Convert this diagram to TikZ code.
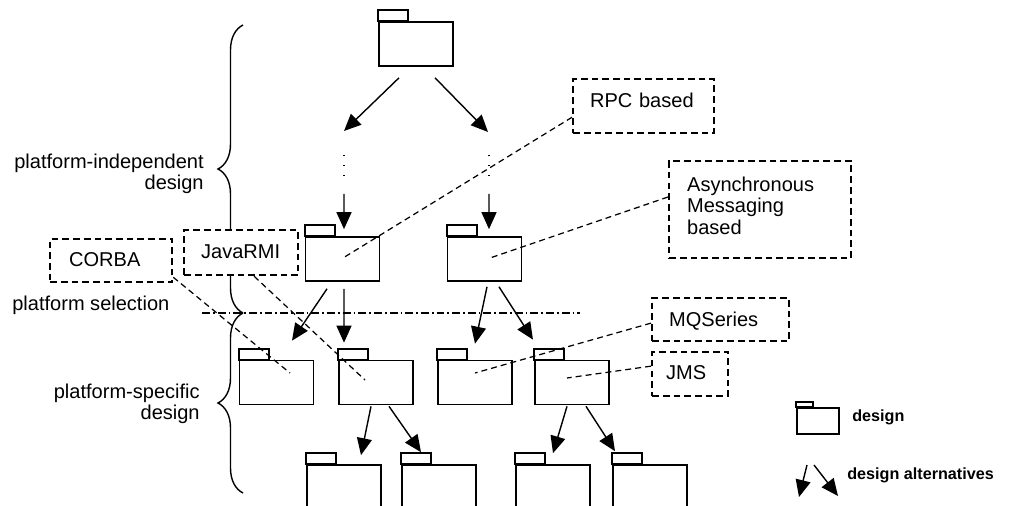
\documentclass[tikz,border=0pt]{standalone}
\usepackage{fontspec}
\setmainfont{Liberation Sans}
\usetikzlibrary{arrows.meta,calc,decorations.pathreplacing}

\tikzset{
  folder/.style={draw, fill=white, line width=0.95pt, inner sep=0pt,
    minimum width=1.48cm, minimum height=0.88cm},
  foldertab/.style={draw, fill=white, line width=0.95pt},
  alt/.style={-{Triangle[length=0.34cm,width=0.3cm]}, line width=0.8pt},
  note/.style={draw, fill=white, line width=1.3pt, dash pattern=on 3.8pt off 2.3pt,
    inner ysep=0pt, align=left, anchor=north west,
    font=\fontsize{11.4}{12.3}\selectfont},
  link/.style={line width=0.7pt, dash pattern=on 3.4pt off 2.3pt},
  lbl/.style={inner sep=0pt, font=\fontsize{11.4}{12.3}\selectfont},
  legend/.style={inner sep=0pt, anchor=base west, font=\fontsize{9.2}{11}\selectfont\bfseries},
  bracepath/.style={decorate, decoration={brace, amplitude=0.5cm}, line width=0.8pt},
}

\begin{document}
\begin{tikzpicture}[x=0.02cm, y=-0.02cm]
\useasboundingbox (0,0) rectangle (1015,506);

% level braces and the platform selection line
\draw[bracepath] (243,313) -- (243,25);
\draw[bracepath] (243,493) -- (243,313);
\coordinate (sel1) at (202,313);
\coordinate (sel2) at (580,313);
\draw[line width=0.8pt, dash pattern=on 4.5pt off 1.7pt on 1pt off 1.7pt] (sel1) -- (sel2);

\node[lbl, anchor=base east, align=right] (pid) at (204,190) {platform-independent\\design};
\node[lbl, anchor=base west] (psel) at (12,311) {platform selection};
\node[lbl, anchor=base east, align=right] (psd) at (200,420) {platform-specific\\design};

% designs
\node[folder] (t)  at (416,44) {};
\node[folder] (m1) at (342.5,259) {};
\node[folder] (m2) at (484.5,259) {};
\node[folder] (f1) at (276.5,382.5) {};
\node[folder] (f2) at (376,382.5) {};
\node[folder] (f3) at (475,382.5) {};
\node[folder] (f4) at (572,382.5) {};
\node[folder] (ga) at (344,487) {};
\node[folder] (gb) at (439,487) {};
\node[folder] (gc) at (553,487) {};
\node[folder] (gd) at (650,487) {};
\foreach \n in {t,m1,m2,f1,f2,f3,f4,ga,gb,gc,gd}
  \draw[foldertab] (\n.north west) rectangle ++(0.6cm,0.22cm);

% platform-independent refinement steps
\coordinate (l1) at (344,131);
\coordinate (l2) at (344,155);
\coordinate (l3) at (344,180);
\coordinate (l4) at (344,194);
\coordinate (r1) at (488,132);
\coordinate (r2) at (489,155);
\coordinate (r3) at (489,180);
\coordinate (r4) at (489,194);
\draw[alt] ($(t.south)+(-17,11)$) -- (l1);
\draw[alt] ($(t.south)+(19,11)$) -- (r1);
\draw[line width=0.8pt, dash pattern=on 0.7pt off 5pt] (l2) -- (l3);
\draw[line width=0.8pt, dash pattern=on 0.7pt off 5pt] (r2) -- (r3);
\draw[alt] (l4) -- ($(m1.north)+(1.5,-7)$);
\draw[alt] (r4) -- ($(m2.north)+(4.5,-7)$);

% platform-specific alternatives
\draw[alt] ($(m1.south)+(-15.5,7)$) -- ($(f1.north)+(15.5,-19)$);
\draw[alt] ($(m1.south)+(1.5,7)$) -- ($(f2.north)+(-32,-17)$);
\draw[alt] ($(m2.south)+(2.5,5)$) -- ($(f3.north)+(0,-16)$);
\draw[alt] ($(m2.south)+(14.5,5)$) -- ($(f4.north)+(-39,-20)$);
\draw[alt] ($(f2.south)+(-5,1)$) -- ($(ga.north)+(17,-9)$);
\draw[alt] ($(f2.south)+(13,1)$) -- ($(gb.north)+(-18,-12)$);
\draw[alt] ($(f4.south)+(-5,1)$) -- ($(gc.north)+(0,-11)$);
\draw[alt] ($(f4.south)+(14,1)$) -- ($(gd.north)+(-35,-13)$);

% notes
\node[note, text width=1.68cm, inner xsep=0.38cm, text height=0.54cm, text depth=0.32cm] (corba) at (49,238) {CORBA};
\node[note, text width=1.6cm, inner xsep=0.34cm, text height=0.56cm, text depth=0.34cm] (rmi) at (183,229) {JavaRMI};
\node[note, text width=2.14cm, inner xsep=0.34cm, text height=0.56cm, text depth=0.52cm] (rpc) at (572,78) {RPC based};
\node[note, text width=2.92cm, inner xsep=0.36cm, text height=0.6cm, text depth=1.34cm] (async) at (668,160) {Asynchronous\\Messaging\\based};
\node[note, text width=2.06cm, inner xsep=0.34cm, text height=0.56cm, text depth=0.30cm] (mq) at (651,297) {MQSeries};
\node[note, text width=0.96cm, inner xsep=0.28cm, text height=0.54cm, text depth=0.34cm] (jms) at (651,351) {JMS};

\draw[link] ($(rpc.south west)+(0,-17)$) -- ($(m1.center)+(0.5,-1)$);
\draw[link] ($(async.north west)+(0,37)$) -- ($(m2.center)+(5.5,-1)$);
\draw[link] ($(corba.south east)+(0,-6)$) -- ($(f1.center)+(13.5,-9.5)$);
\draw[link] ($(rmi.south)+(13,0)$) -- ($(f2.center)+(-11,-2.5)$);
\draw[link] ($(mq.west)+(0,3.5)$) -- ($(f3.center)+(0,-9.5)$);
\draw[link] ($(jms.west)+(0,-8)$) -- ($(f4.center)+(-5,-4.5)$);

% legend
\node[draw, fill=white, line width=0.95pt, inner sep=0pt, minimum width=0.84cm, minimum height=0.52cm] (lf) at (818,421) {};
\draw[foldertab] (lf.north west) rectangle ++(0.34cm,0.1cm);
\node[legend] (ld) at (852,422) {design};
\coordinate (la1) at (807,465);
\coordinate (la2) at (799,497);
\coordinate (lb1) at (814,465);
\coordinate (lb2) at (838,496);
\draw[alt] (la1) -- (la2);
\draw[alt] (lb1) -- (lb2);
\node[legend] (lalt) at (847,480) {design alternatives};
\end{tikzpicture}
\end{document}
